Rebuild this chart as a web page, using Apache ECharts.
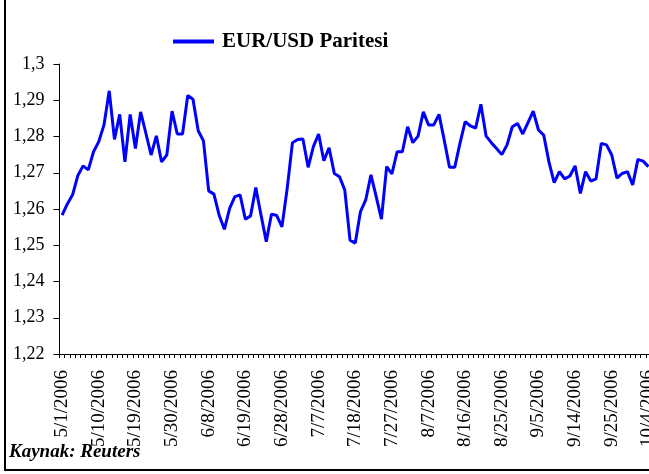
<!DOCTYPE html>
<html>
<head>
<meta charset="utf-8">
<script src="https://cdn.jsdelivr.net/npm/echarts@6/dist/echarts.min.js"></script>
<style>
  html, body { margin: 0; padding: 0; background: #fff; }
  #main { width: 649px; height: 474px; }
</style>
</head>
<body>
<div id="main"></div>
<script>
// is gunleri, 5/1/2006 - 10/4/2006
var dates = [
  '5/1/2006','5/2/2006','5/3/2006','5/4/2006','5/5/2006','5/8/2006','5/9/2006','5/10/2006','5/11/2006','5/12/2006',
  '5/15/2006','5/16/2006','5/17/2006','5/18/2006','5/19/2006','5/22/2006','5/23/2006','5/24/2006','5/25/2006','5/26/2006',
  '5/29/2006','5/30/2006','5/31/2006','6/1/2006','6/2/2006','6/5/2006','6/6/2006','6/7/2006','6/8/2006','6/9/2006',
  '6/12/2006','6/13/2006','6/14/2006','6/15/2006','6/16/2006','6/19/2006','6/20/2006','6/21/2006','6/22/2006','6/23/2006',
  '6/26/2006','6/27/2006','6/28/2006','6/29/2006','6/30/2006','7/3/2006','7/4/2006','7/5/2006','7/6/2006','7/7/2006',
  '7/10/2006','7/11/2006','7/12/2006','7/13/2006','7/14/2006','7/17/2006','7/18/2006','7/19/2006','7/20/2006','7/21/2006',
  '7/24/2006','7/25/2006','7/26/2006','7/27/2006','7/28/2006','7/31/2006','8/1/2006','8/2/2006','8/3/2006','8/4/2006',
  '8/7/2006','8/8/2006','8/9/2006','8/10/2006','8/11/2006','8/14/2006','8/15/2006','8/16/2006','8/17/2006','8/18/2006',
  '8/21/2006','8/22/2006','8/23/2006','8/24/2006','8/25/2006','8/28/2006','8/29/2006','8/30/2006','8/31/2006','9/1/2006',
  '9/4/2006','9/5/2006','9/6/2006','9/7/2006','9/8/2006','9/11/2006','9/12/2006','9/13/2006','9/14/2006','9/15/2006',
  '9/18/2006','9/19/2006','9/20/2006','9/21/2006','9/22/2006','9/25/2006','9/26/2006','9/27/2006','9/28/2006','9/29/2006',
  '10/2/2006','10/3/2006','10/4/2006'
];

var eurUsd = [
  1.2583, 1.2614, 1.2639, 1.2692, 1.2719, 1.2708, 1.2758, 1.2786, 1.2832, 1.2926,
  1.2792, 1.2861, 1.2730, 1.2861, 1.2767, 1.2868, 1.2809, 1.2749, 1.2802, 1.2730,
  1.2749, 1.2870, 1.2807, 1.2807, 1.2913, 1.2903, 1.2816, 1.2788, 1.2650, 1.2641,
  1.2583, 1.2544, 1.2602, 1.2634, 1.2639, 1.2572, 1.2581, 1.2659, 1.2583, 1.2510,
  1.2586, 1.2582, 1.2551, 1.2657, 1.2783, 1.2792, 1.2793, 1.2715, 1.2772, 1.2807,
  1.2733, 1.2769, 1.2698, 1.2689, 1.2652, 1.2514, 1.2506, 1.2593, 1.2625, 1.2694,
  1.2634, 1.2572, 1.2717, 1.2697, 1.2758, 1.2758, 1.2827, 1.2783, 1.2801, 1.2868,
  1.2832, 1.2832, 1.2861, 1.2790, 1.2715, 1.2715, 1.2781, 1.2841, 1.2829, 1.2823,
  1.2889, 1.2801, 1.2783, 1.2767, 1.2750, 1.2777, 1.2827, 1.2836, 1.2807, 1.2838,
  1.2870, 1.2818, 1.2804, 1.2730, 1.2673, 1.2703, 1.2683, 1.2691, 1.2719, 1.2643,
  1.2703, 1.2677, 1.2683, 1.2781, 1.2777, 1.2749, 1.2685, 1.2698, 1.2703, 1.2666,
  1.2737, 1.2732, 1.2717
];

var yMin = 1.22, yMax = 1.30, yStep = 0.01;
var seriesName = 'EUR/USD Paritesi';
var sourceText = 'Kaynak: Reuters';

var font = 'Liberation Serif, Times New Roman, serif';
var chart = echarts.init(document.getElementById('main'));

var option = {
  animation: false,
  backgroundColor: '#fff',
  textStyle: { fontFamily: font },
  grid: { left: 59.5, right: -2, top: 64, bottom: 120, containLabel: false, outerBoundsMode: 'none' },
  legend: {
    data: [seriesName],
    left: 168,
    top: 26,
    icon: 'rect',
    itemWidth: 41,
    itemHeight: 4,
    itemGap: 6,
    textStyle: { fontFamily: font, fontSize: 21, fontWeight: 'bold', color: '#000', padding: [0, 0, 0, 3] }
  },
  xAxis: {
    type: 'category',
    data: dates,
    boundaryGap: true,
    axisLine: { lineStyle: { color: '#000', width: 1 } },
    axisTick: { show: true, interval: 0, length: 4, inside: false, lineStyle: { color: '#000' } },
    axisLabel: {
      interval: 6,
      rotate: 90,
      margin: 16,
      fontFamily: font,
      fontSize: 19,
      color: '#000'
    },
    splitLine: { show: false }
  },
  yAxis: {
    type: 'value',
    min: yMin,
    max: yMax,
    interval: yStep,
    axisLine: { show: true, lineStyle: { color: '#000', width: 1 } },
    axisTick: { show: true, length: 6, lineStyle: { color: '#000' } },
    axisLabel: {
      margin: 15,
      fontFamily: font,
      fontSize: 18,
      color: '#000',
      formatter: function (v) { return String(Math.round(v * 100) / 100).replace('.', ','); }
    },
    splitLine: { show: false }
  },
  series: [{
    name: seriesName,
    type: 'line',
    data: eurUsd,
    symbol: 'none',
    smooth: false,
    lineStyle: { color: '#0000ff', width: 3 },
    itemStyle: { color: '#0000ff' }
  }],
  graphic: [
    {
      type: 'rect',
      z: 100,
      shape: { x: 5, y: -10, width: 700, height: 480 },
      style: { fill: 'none', stroke: '#000', lineWidth: 2 }
    },
    {
      type: 'text',
      z: 100,
      left: 9,
      top: 443,
      style: {
        text: sourceText,
        fontFamily: font,
        fontSize: 19,
        fontWeight: 'bold',
        fontStyle: 'italic',
        fill: '#000'
      }
    }
  ]
};

chart.setOption(option);
</script>
</body>
</html>
